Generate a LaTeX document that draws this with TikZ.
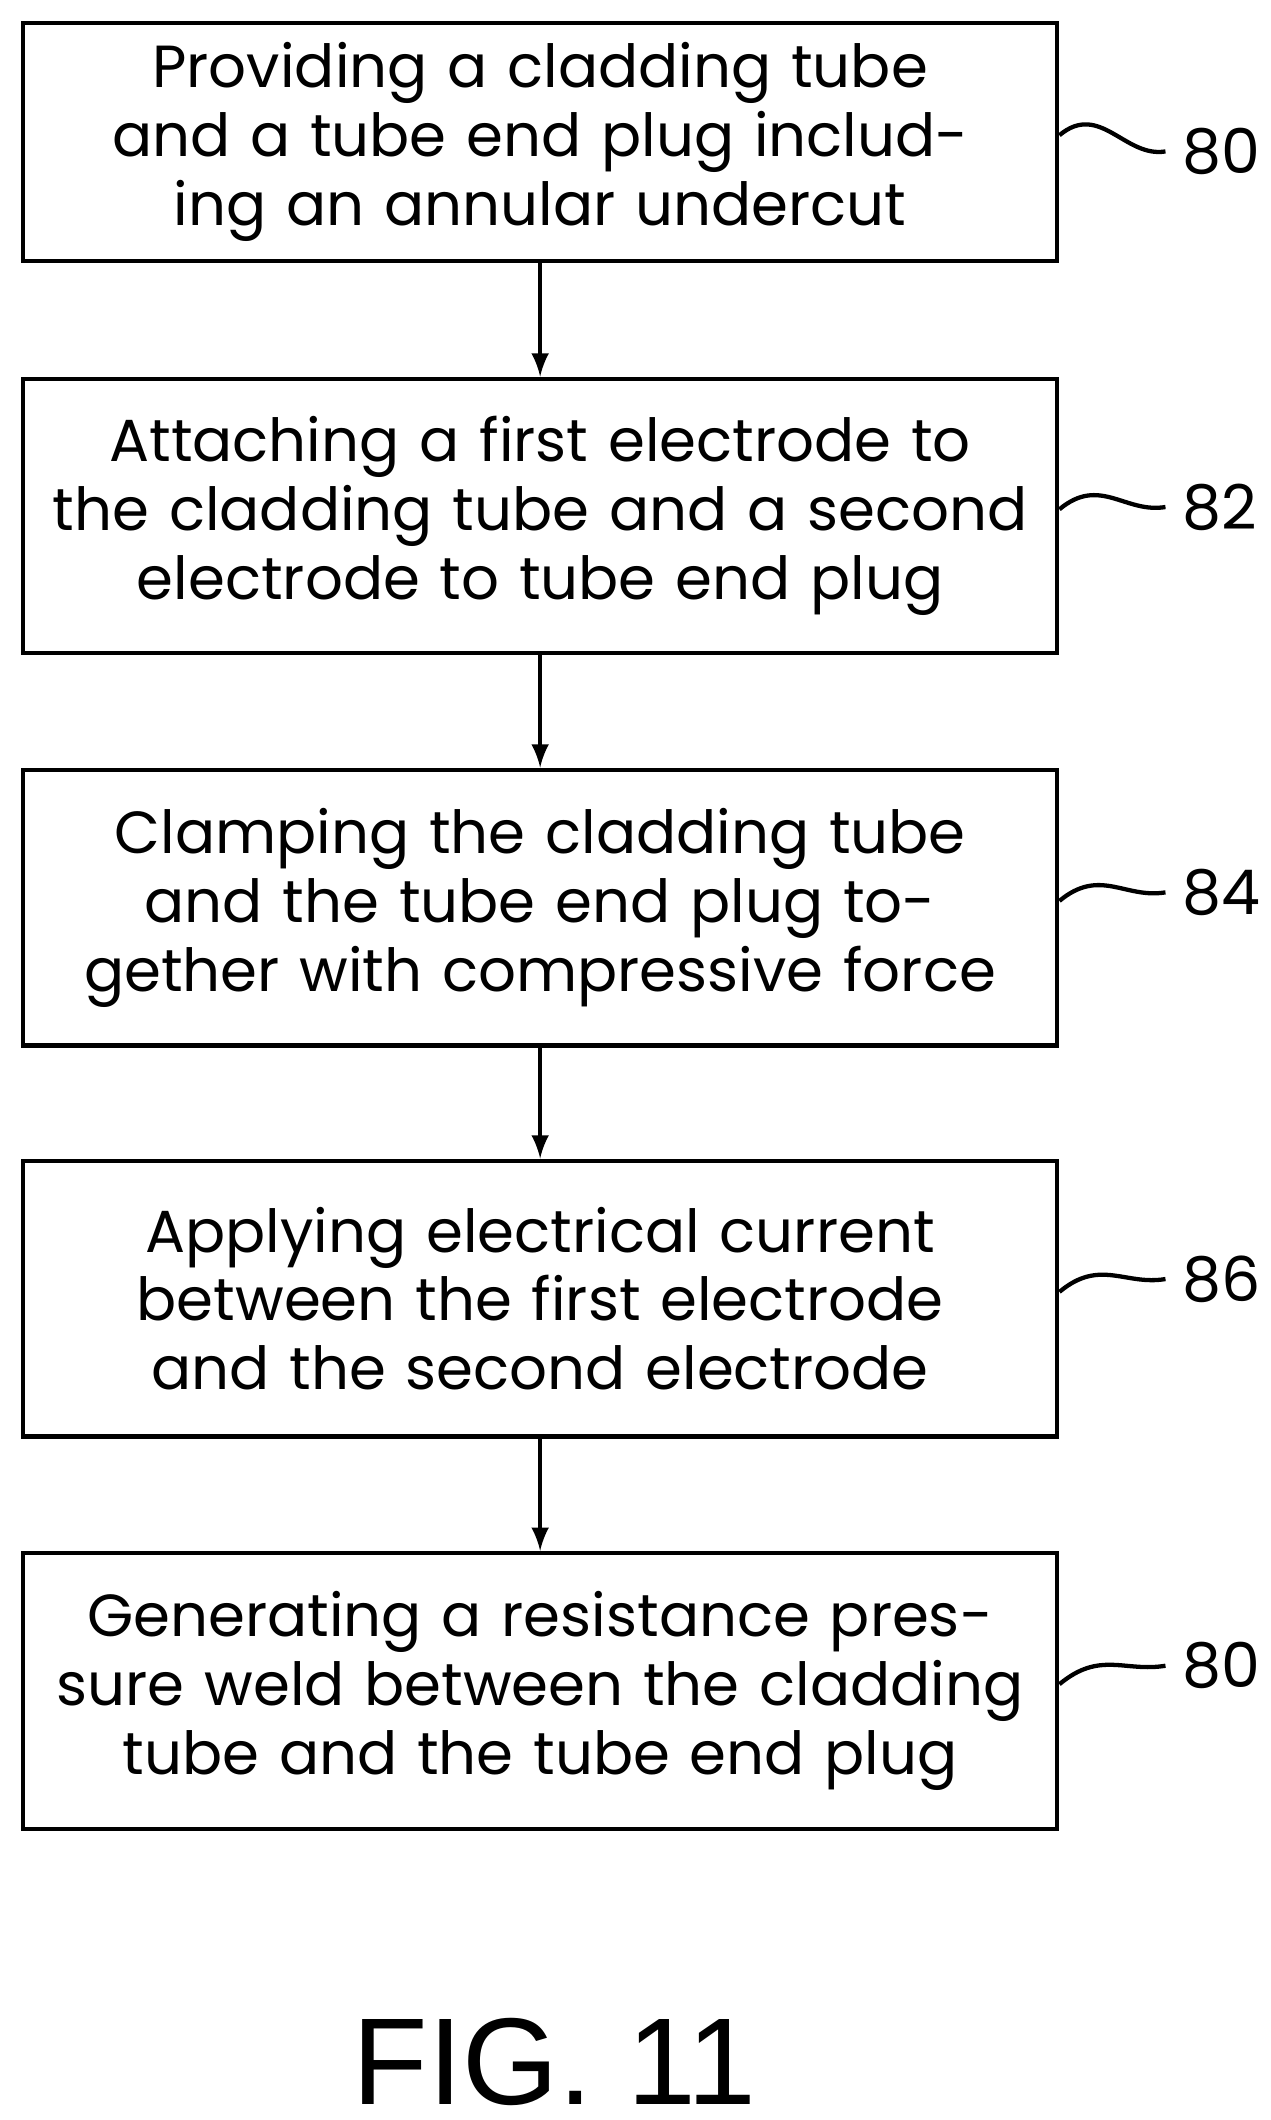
\documentclass[tikz,border=0pt]{standalone}
\usepackage{fontspec}
\setmainfont[WordSpace=1.6]{Poppins}
\newfontfamily\figfont{Liberation Sans}
\usetikzlibrary{positioning}
\tikzset{
  stepbox/.style={draw, line width=0.9pt, minimum width=7.65cm, text width=7.3cm,
    align=center, font=\fontsize{12.5}{14.5}\selectfont},
  ref/.style={font=\fontsize{13}{15}\selectfont, anchor=west},
  flow/.style={-latex, line width=0.7pt},
  tilde/.style={line width=0.9pt},
}
\begin{document}
\begin{tikzpicture}
  \useasboundingbox (0,0) rectangle (9.4,-15.68);
  \node[stepbox, minimum height=1.76cm] (b1) at (3.995,-1.05)
    {Providing a cladding tube and a tube end plug including an annular undercut};
  \node[stepbox, minimum height=2.03cm, below=0.84cm of b1] (b2)
    {Attaching a first electrode to the cladding tube and a second electrode to tube end plug};
  \node[stepbox, minimum height=2.04cm, below=0.83cm of b2] (b3)
    {Clamping the cladding tube and the tube end plug together with compressive force};
  \node[stepbox, minimum height=2.04cm, below=0.82cm of b3] (b4)
    {Applying electrical current between the first electrode and the second electrode};
  \node[stepbox, minimum height=2.04cm, below=0.83cm of b4] (b5)
    {Generating a resistance pressure weld between the cladding tube and the tube end plug};

  \node[ref] (l1) at (8.62,-1.12) {80};
  \node[ref] (l2) at (8.62,-3.75) {82};
  \node[ref] (l3) at (8.62,-6.6) {84};
  \node[ref] (l4) at (8.62,-9.46) {86};
  \node[ref] (l5) at (8.62,-12.32) {80};

  \foreach \a/\b in {b1/b2,b2/b3,b3/b4,b4/b5}
    \draw[flow] (\a) -- (\b);
  \foreach \a/\b in {b1/l1,b2/l2,b3/l3,b4/l4,b5/l5}
    \draw[tilde] (\a.east) ++(0,0.05) coordinate (s)
      (s) .. controls +(0.3,0.25) and +(-0.3,-0.05) .. (\b.west);

  \node[font=\figfont\fontsize{26}{30}\selectfont] (fig) at (4.1,-15.25) {FIG. 11};
\end{tikzpicture}
\end{document}
